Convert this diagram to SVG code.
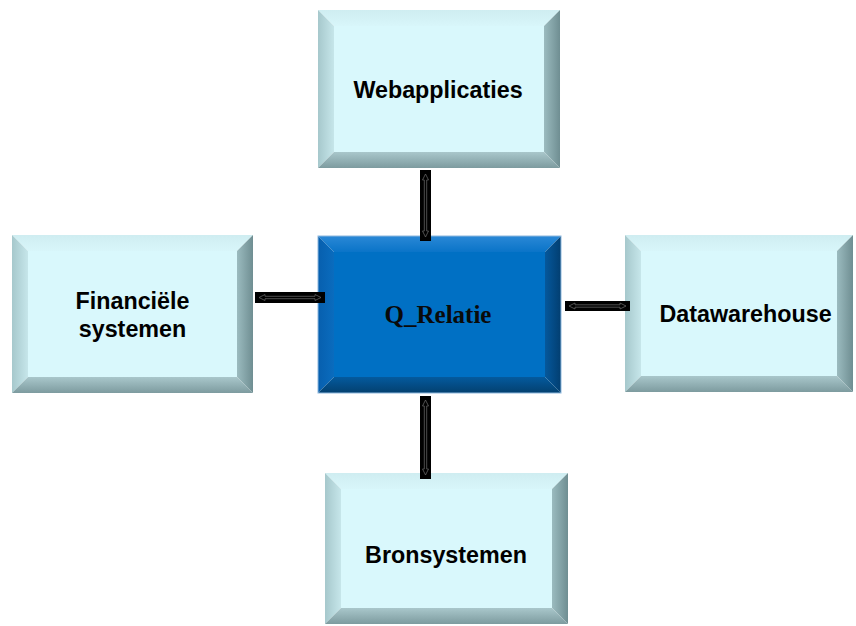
<svg xmlns="http://www.w3.org/2000/svg" width="856" height="626" viewBox="0 0 856 626">
<defs>
<linearGradient id="lt" x1="0" y1="0" x2="0" y2="1"><stop offset="0" stop-color="#CFEDF1"/><stop offset="1" stop-color="#D8F6FA"/></linearGradient>
<linearGradient id="ll" x1="0" y1="0" x2="1" y2="0"><stop offset="0" stop-color="#A6C8CC"/><stop offset="1" stop-color="#C6E6EA"/></linearGradient>
<linearGradient id="lr" x1="0" y1="0" x2="1" y2="0"><stop offset="0" stop-color="#9BBBBF"/><stop offset="1" stop-color="#6F8E92"/></linearGradient>
<linearGradient id="lb" x1="0" y1="0" x2="0" y2="1"><stop offset="0" stop-color="#A9C7CB"/><stop offset="1" stop-color="#7D9B9F"/></linearGradient>
<linearGradient id="dt" x1="0" y1="0" x2="0" y2="1"><stop offset="0" stop-color="#2A88D6"/><stop offset="1" stop-color="#0A74C8"/></linearGradient>
<linearGradient id="dl" x1="0" y1="0" x2="1" y2="0"><stop offset="0" stop-color="#075FAE"/><stop offset="1" stop-color="#0A6CBE"/></linearGradient>
<linearGradient id="dr" x1="0" y1="0" x2="1" y2="0"><stop offset="0" stop-color="#05589C"/><stop offset="1" stop-color="#023E70"/></linearGradient>
<linearGradient id="db" x1="0" y1="0" x2="0" y2="1"><stop offset="0" stop-color="#045A9E"/><stop offset="1" stop-color="#03406F"/></linearGradient>
</defs>
<style>
.lface{fill:#D9F8FC}
.lt{fill:url(#lt)} .ll{fill:url(#ll)} .lr{fill:url(#lr)} .lb{fill:url(#lb)}
.dface{fill:#0070C4}
.dt{fill:url(#dt)} .dl{fill:url(#dl)} .dr{fill:url(#dr)} .db{fill:url(#db)}
.lbl{font-family:"Liberation Sans",Arial,sans-serif;font-weight:bold;font-size:23.3px;fill:#000;text-anchor:middle}
.clbl{font-family:"Liberation Serif","Times New Roman",serif;font-weight:bold;font-size:25px;fill:#0a0a0a;text-anchor:middle}
.bar{fill:#000}
.arr{fill:none;stroke:#6e6e6e;stroke-width:0.7}
</style>

<g id="webapplicaties" transform="translate(318,10)">
<rect class="lface" x="16" y="16" width="210" height="126"/>
<polygon class="lt" points="0,0 242,0 226,16 16,16"/>
<polygon class="ll" points="0,0 16,16 16,142 0,158"/>
<polygon class="lr" points="242,0 242,158 226,142 226,16"/>
<polygon class="lb" points="0,158 16,142 226,142 242,158"/>
<text class="lbl" x="120" y="88">Webapplicaties</text>
</g>

<g id="financiele-systemen" transform="translate(12,235)">
<rect class="lface" x="16" y="16" width="209" height="126"/>
<polygon class="lt" points="0,0 241,0 225,16 16,16"/>
<polygon class="ll" points="0,0 16,16 16,142 0,158"/>
<polygon class="lr" points="241,0 241,158 225,142 225,16"/>
<polygon class="lb" points="0,158 16,142 225,142 241,158"/>
<text class="lbl" x="120.5" y="74">Financiële</text>
<text class="lbl" x="120.5" y="102">systemen</text>
</g>

<g id="q-relatie" transform="translate(318,236)">
<rect class="dface" x="16" y="16" width="211" height="125"/>
<polygon class="dt" points="0,0 243,0 227,16 16,16"/>
<polygon class="dl" points="0,0 16,16 16,141 0,157"/>
<polygon class="dr" points="243,0 243,157 227,141 227,16"/>
<polygon class="db" points="0,157 16,141 227,141 243,157"/>
<rect x="0" y="0" width="243" height="157" fill="none" stroke="#8DB8DE" stroke-width="1"/>
<text class="clbl" x="120" y="87">Q_Relatie</text>
</g>

<g id="datawarehouse" transform="translate(625,235)">
<rect class="lface" x="16" y="16" width="196" height="125"/>
<polygon class="lt" points="0,0 228,0 212,16 16,16"/>
<polygon class="ll" points="0,0 16,16 16,141 0,157"/>
<polygon class="lr" points="228,0 228,157 212,141 212,16"/>
<polygon class="lb" points="0,157 16,141 212,141 228,157"/>
<text class="lbl" x="120.5" y="87">Datawarehouse</text>
</g>

<g id="bronsystemen" transform="translate(325,473)">
<rect class="lface" x="16" y="16" width="211" height="119"/>
<polygon class="lt" points="0,0 243,0 227,16 16,16"/>
<polygon class="ll" points="0,0 16,16 16,135 0,151"/>
<polygon class="lr" points="243,0 243,151 227,135 227,16"/>
<polygon class="lb" points="0,151 16,135 227,135 243,151"/>
<text class="lbl" x="121" y="90">Bronsystemen</text>
</g>

<g id="connectors">
<rect class="bar" x="420" y="170" width="11" height="71"/>
<polygon class="arr" points="425.5,174 428.5,180 426.7,180 426.7,231 428.5,231 425.5,237 422.5,231 424.3,231 424.3,180 422.5,180"/>
<rect class="bar" x="420" y="396" width="11" height="83"/>
<polygon class="arr" points="425.5,400 428.5,406 426.7,406 426.7,469 428.5,469 425.5,475 422.5,469 424.3,469 424.3,406 422.5,406"/>
<rect class="bar" x="255" y="292" width="70" height="11"/>
<polygon class="arr" points="259,297.5 265,294.5 265,296.3 315,296.3 315,294.5 321,297.5 315,300.5 315,298.7 265,298.7 265,300.5"/>
<rect class="bar" x="565" y="301" width="65" height="10"/>
<polygon class="arr" points="569,306 575,303 575,304.8 620,304.8 620,303 626,306 620,309 620,307.2 575,307.2 575,309"/>
</g>
</svg>
